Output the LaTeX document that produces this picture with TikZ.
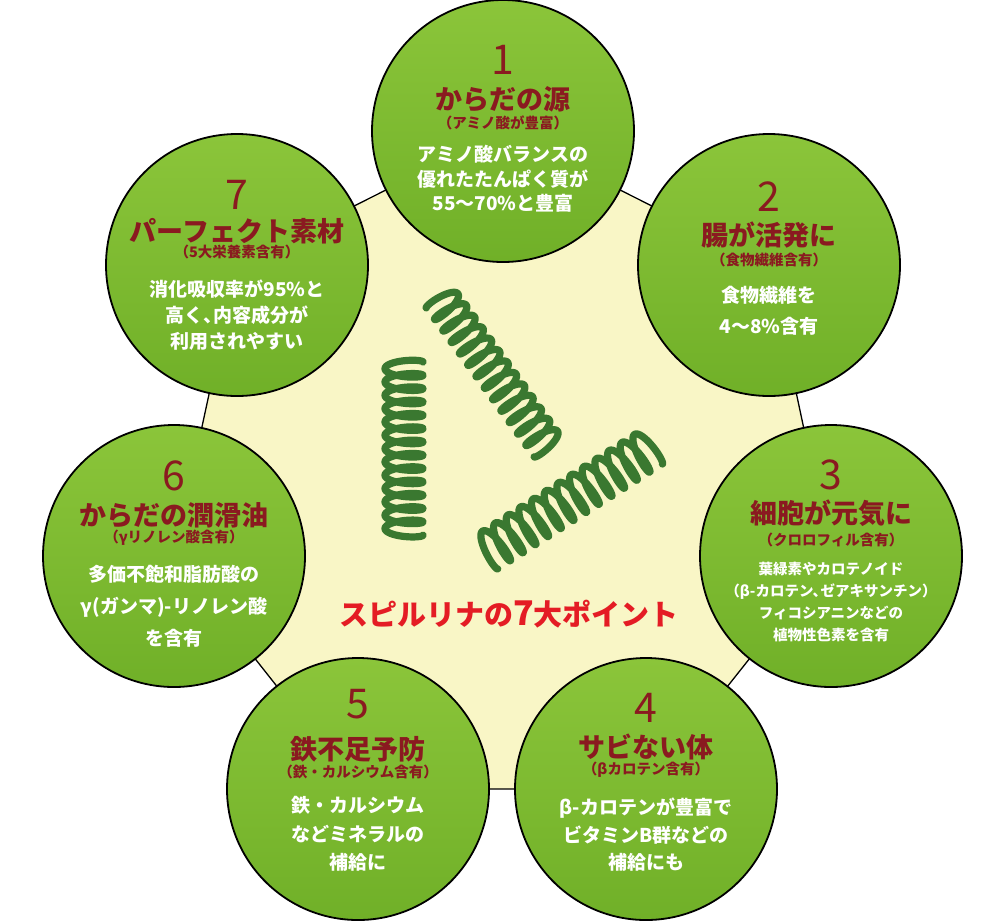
\documentclass[tikz,border=0pt]{standalone}
\usepackage{fontspec}
\setmainfont{Noto Sans CJK JP}
\definecolor{pale}{RGB}{249,246,198}
\definecolor{gtop}{RGB}{139,197,58}
\definecolor{gbot}{RGB}{112,176,40}
\definecolor{dred}{RGB}{138,26,32}
\definecolor{bright}{RGB}{228,28,36}
\definecolor{coilg}{RGB}{58,120,48}
\begin{document}
\begin{tikzpicture}[x=1pt,y=-1pt,
  bubble/.style={circle,draw=black,line width=1.8pt,minimum size=262pt,inner sep=0pt,top color=gtop,bottom color=gbot},
  pnum/.style={text=dred,font=\fontsize{41}{41}\selectfont,inner sep=0pt},
  ptitle/.style={text=dred,font=\bfseries\fontsize{27}{27}\selectfont,inner sep=0pt},
  psub/.style={text=dred,font=\bfseries\fontsize{14.5}{15}\selectfont,inner sep=0pt},
  pbody/.style 2 args={text=white,font=\bfseries\fontsize{#1}{#2}\selectfont,align=center,inner sep=0pt},
  coil/.style={draw=coilg,line width=7.2pt,line cap=round,line join=round}]
\fill[white] (0,0) rectangle (1001,922);
\useasboundingbox (0,0) rectangle (1001,922);
\coordinate (p1) at (503,131);
\coordinate (p2) at (769,265);
\coordinate (p3) at (831,556);
\coordinate (p4) at (646,789);
\coordinate (p5) at (358,789);
\coordinate (p6) at (174,556);
\coordinate (p7) at (237,265);
\filldraw[fill=pale,draw=black,line width=1.3pt] (p1)--(p2)--(p3)--(p4)--(p5)--(p6)--(p7)--cycle;
% spirulina coils
\draw[coil] plot[domain=0:81.7,samples=700,smooth,variable=\t]
  ({440 + (2.25*\t - 4.6*sin(\t r))*0.587 + 17*cos(\t r)*(-0.81)},
   {298 + (2.25*\t - 4.6*sin(\t r))*0.81 + 17*cos(\t r)*0.587});
\draw[coil] plot[domain=0:81.7,samples=700,smooth,variable=\t]
  ({404 + 19*cos(\t r)},
   {362 + (2.12*\t - 4.6*sin(\t r))});
\draw[coil] plot[domain=0:81.7,samples=700,smooth,variable=\t]
  ({487 + (2.39*\t - 5*sin(\t r))*0.8436 + 20*cos(\t r)*0.5368},
   {552 + (2.39*\t - 5*sin(\t r))*(-0.5368) + 20*cos(\t r)*0.8436});
\node[text=bright,font=\bfseries\fontsize{29}{29}\selectfont,inner sep=0pt] (head) at (509,614) {スピルリナの{\fontsize{34}{34}\selectfont 7}大ポイント};
% circles
\node[bubble] (c1) at (p1) {};
\node[bubble] (c2) at (p2) {};
\node[bubble] (c3) at (p3) {};
\node[bubble] (c4) at (p4) {};
\node[bubble] (c5) at (p5) {};
\node[bubble] (c6) at (p6) {};
\node[bubble] (c7) at (p7) {};
% 1
\node[pnum] (n1) at (503,60) {1};
\node[ptitle] (t1) at (503,99) {からだの源};
\node[psub] (s1) at (503,123) {（アミノ酸が豊富）};
\node[pbody={19}{24.5}] (b1) at (503,179) {アミノ酸バランスの\\優れたたんぱく質が\\55〜70\%と豊富};
% 2
\node[pnum] (n2) at (769,197) {2};
\node[ptitle] (t2) at (769,235) {腸が活発に};
\node[psub] (s2) at (769,260) {（食物繊維含有）};
\node[pbody={19}{31}] (b2) at (769,310.5) {食物繊維を\\4〜8\%含有};
% 3
\node[pnum] (n3) at (831,475) {3};
\node[ptitle] (t3) at (831,513) {細胞が元気に};
\node[psub] (s3) at (831,540) {（クロロフィル含有）};
\node[pbody={14.5}{22}] (b3) at (831,602) {葉緑素やカロテノイド\\（β-カロテン、\kern-0.45em ゼアキサンチン）\\フィコシアニンなどの\\植物性色素を含有};
% 4
\node[pnum] (n4) at (646,708) {4};
\node[ptitle] (t4) at (646,747) {サビない体};
\node[psub] (s4) at (646,770) {（βカロテン含有）};
\node[pbody={19}{27.5}] (b4) at (646,835) {β-カロテンが豊富で\\ビタミンB群などの\\補給にも};
% 5
\node[pnum] (n5) at (358,704) {5};
\node[ptitle] (t5) at (358,749) {鉄不足予防};
\node[psub] (s5) at (358,772) {（鉄・カルシウム含有）};
\node[pbody={19}{28.5}] (b5) at (358,834) {鉄・カルシウム\\などミネラルの\\補給に};
% 6
\node[pnum] (n6) at (174,476) {6};
\node[ptitle] (t6) at (174,515) {からだの潤滑油};
\node[psub] (s6) at (174,538) {（γリノレン酸含有）};
\node[pbody={19}{32}] (b6) at (174,606) {多価不飽和脂肪酸の\\γ(ガンマ)-リノレン酸\\を含有};
% 7
\node[pnum] (n7) at (237,195) {7};
\node[ptitle] (t7) at (237,231) {パーフェクト素材};
\node[psub] (s7) at (237,252) {（5大栄養素含有）};
\node[pbody={19}{26}] (b7) at (237,315) {消化吸収率が95\%と\\高く、\kern-0.45em 内容成分が\\利用されやすい};
\end{tikzpicture}
\end{document}
